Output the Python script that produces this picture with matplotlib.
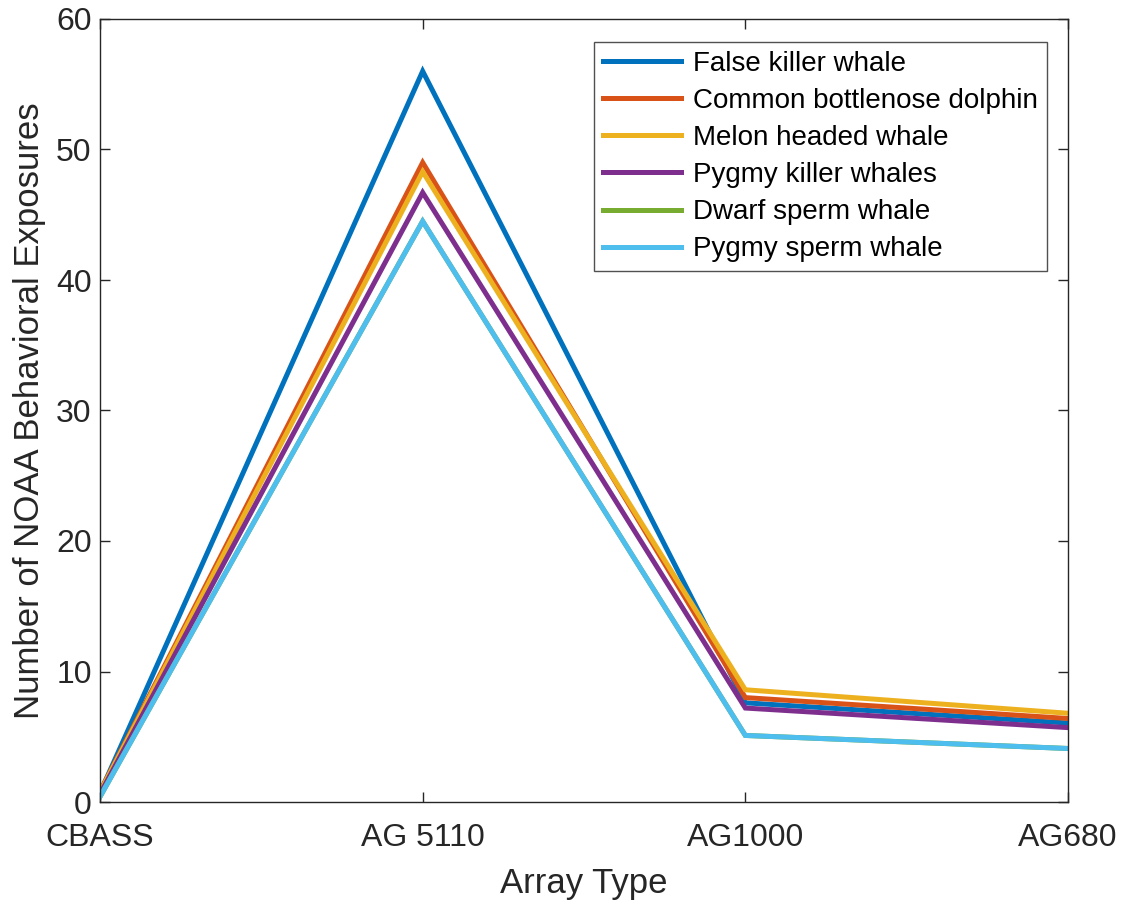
import matplotlib
matplotlib.use("Agg")
import matplotlib.pyplot as plt

plt.rcParams['font.family'] = ['Liberation Sans', 'DejaVu Sans']

categories = ["CBASS", "AG 5110", "AG1000", "AG680"]
false_killer = [0.7, 56.0, 7.6, 6.05]
bottlenose = [0.8, 49.0, 8.0, 6.4]
melon_headed = [0.75, 48.3, 8.6, 6.8]
pygmy_killer = [0.6, 46.7, 7.2, 5.7]
dwarf_sperm = [0.4, 44.5, 5.1, 4.1]
pygmy_sperm = [0.4, 44.5, 5.1, 4.1]

series = [
    ("False killer whale", false_killer, "#0072BD"),
    ("Common bottlenose dolphin", bottlenose, "#D95319"),
    ("Melon headed whale", melon_headed, "#EDB120"),
    ("Pygmy killer whales", pygmy_killer, "#7E2F8E"),
    ("Dwarf sperm whale", dwarf_sperm, "#77AC30"),
    ("Pygmy sperm whale", pygmy_sperm, "#4DBEEE"),
]

fig = plt.figure(figsize=(11.27, 9.05), dpi=100)
ax = fig.add_axes([100/1127, 1 - 802/905, (1068-100)/1127, (802-19)/905])
x = list(range(len(categories)))
for name, vals, col in series:
    ax.plot(x, vals, color=col, linewidth=3.6, label=name, solid_joinstyle='miter')

ax.set_xlim(0, 3)
ax.set_ylim(0, 60)
ax.set_xticks(x)
ax.set_xticklabels(categories)
ax.set_yticks(range(0, 61, 10))
ax.tick_params(direction='in', length=7, width=1, labelsize=23, colors='#262626', top=True, right=True)
ax.tick_params(axis='x', pad=15)
ax.tick_params(axis='y', pad=6)
for s in ax.spines.values():
    s.set_color('#262626')
    s.set_linewidth(1)
ax.set_xlabel("Array Type", fontsize=25, color='#262626', labelpad=10)
ax.set_ylabel("Number of NOAA Behavioral Exposures", fontsize=25, color='#262626', labelpad=7)

leg = ax.legend(loc='upper right', bbox_to_anchor=(1047/1127, 1 - 42/905), bbox_transform=fig.transFigure,
                fontsize=20, frameon=True, fancybox=False, edgecolor='#262626', handlelength=2.8,
                borderpad=0.32, labelspacing=0.4, handletextpad=0.45, borderaxespad=0)
leg.get_frame().set_linewidth(1)

fig.savefig("out.png", dpi=100, facecolor='white')
